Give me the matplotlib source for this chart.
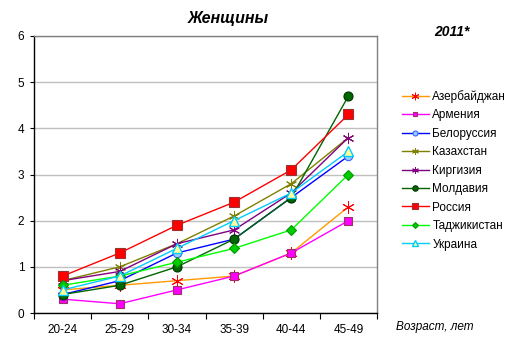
import matplotlib
matplotlib.use("Agg")
import matplotlib.pyplot as plt

plt.rcParams['font.family'] = ['Liberation Sans', 'DejaVu Sans']

categories = ["20-24", "25-29", "30-34", "35-39", "40-44", "45-49"]
azerbaijan = [0.5, 0.6, 0.7, 0.8, 1.3, 2.3]
armenia = [0.3, 0.2, 0.5, 0.8, 1.3, 2.0]
belarus = [0.4, 0.7, 1.3, 1.6, 2.5, 3.4]
kazakhstan = [0.7, 1.0, 1.5, 2.1, 2.8, 3.8]
kyrgyzstan = [0.7, 0.9, 1.5, 1.8, 2.6, 3.8]
moldova = [0.4, 0.6, 1.0, 1.6, 2.5, 4.7]
russia = [0.8, 1.3, 1.9, 2.4, 3.1, 4.3]
tajikistan = [0.6, 0.8, 1.1, 1.4, 1.8, 3.0]
ukraine = [0.5, 0.8, 1.4, 2.0, 2.6, 3.5]

series = [
    ("Азербайджан", azerbaijan, dict(color="#FF9900", marker=(6, 2, 0), mfc="#FF0000", mec="#FF0000", ms=9, mew=0.7)),
    ("Армения", armenia, dict(color="#FF00FF", marker="s", mfc="#FF00FF", mec="#993366", ms=6, mew=0.8)),
    ("Белоруссия", belarus, dict(color="#0000FF", marker="o", mfc="#99CCFF", mec="#3366FF", ms=6, mew=0.8)),
    ("Казахстан", kazakhstan, dict(color="#808000", marker=(6, 2, 0), mfc="#808000", mec="#808000", ms=8, mew=0.7)),
    ("Киргизия", kyrgyzstan, dict(color="#800080", marker=(6, 2, 0), mfc="#800080", mec="#800080", ms=8, mew=0.7)),
    ("Молдавия", moldova, dict(color="#006600", marker="o", mfc="#006600", mec="#003300", ms=6.5, mew=0.8)),
    ("Россия", russia, dict(color="#FF0000", marker="s", mfc="#FF0000", mec="#993333", ms=6.5, mew=0.8)),
    ("Таджикистан", tajikistan, dict(color="#00FF00", marker="D", mfc="#00CC00", mec="#009900", ms=5, mew=0.8)),
    ("Украина", ukraine, dict(color="#00CCFF", marker="^", mfc="#FFFF99", mec="#00CCFF", ms=7, mew=1.0)),
]

fig = plt.figure(figsize=(5.13, 3.56), dpi=100)
ax = fig.add_axes([34/513, 43/356, 343/513, 277/356])

x = list(range(len(categories)))
handles = []
for name, vals, st in series:
    h, = ax.plot(x, vals, lw=1.0, label=name, **st)
    handles.append(h)

ax.set_xlim(-0.5, len(categories) - 0.5)
ax.set_ylim(0, 6)
ax.set_yticks(range(0, 7))
ax.set_xticks(x)
ax.set_xticklabels(categories, fontsize=8.5)
ax.tick_params(axis='y', labelsize=8.5, length=3, width=0.8, direction='out', pad=4)
ax.tick_params(axis='x', which='major', length=0, pad=8)
ax.set_xticks([i + 0.5 for i in range(-1, len(categories))], minor=True)
ax.tick_params(axis='x', which='minor', length=4, width=0.8, direction='out')
ax.grid(axis='y', color='#C0C0C0', lw=1.0)
ax.set_axisbelow(True)
for s in ['top', 'right']:
    ax.spines[s].set_color('#808080')
    ax.spines[s].set_linewidth(1.0)
for s in ['left', 'bottom']:
    ax.spines[s].set_color('black')
    ax.spines[s].set_linewidth(1.0)

fig.text(228/513, 1 - 18/356, "Женщины", fontsize=11.5, fontweight='bold', fontstyle='italic', ha='center', va='center')
fig.text(452/513, 1 - 32/356, "2011*", fontsize=10, fontweight='bold', fontstyle='italic', ha='center', va='center')
fig.text(396/513, 1 - 327/356, "Возраст, лет", fontsize=8.5, fontstyle='italic', ha='left', va='center')

leg = fig.legend(handles=handles, loc='upper left', bbox_to_anchor=(397/513, 1 - 85/356),
                 frameon=False, fontsize=8.5, handlelength=2.3, handletextpad=0.3,
                 labelspacing=0.55, markerscale=0.6, borderaxespad=0)

fig.savefig("out.png", dpi=100)
